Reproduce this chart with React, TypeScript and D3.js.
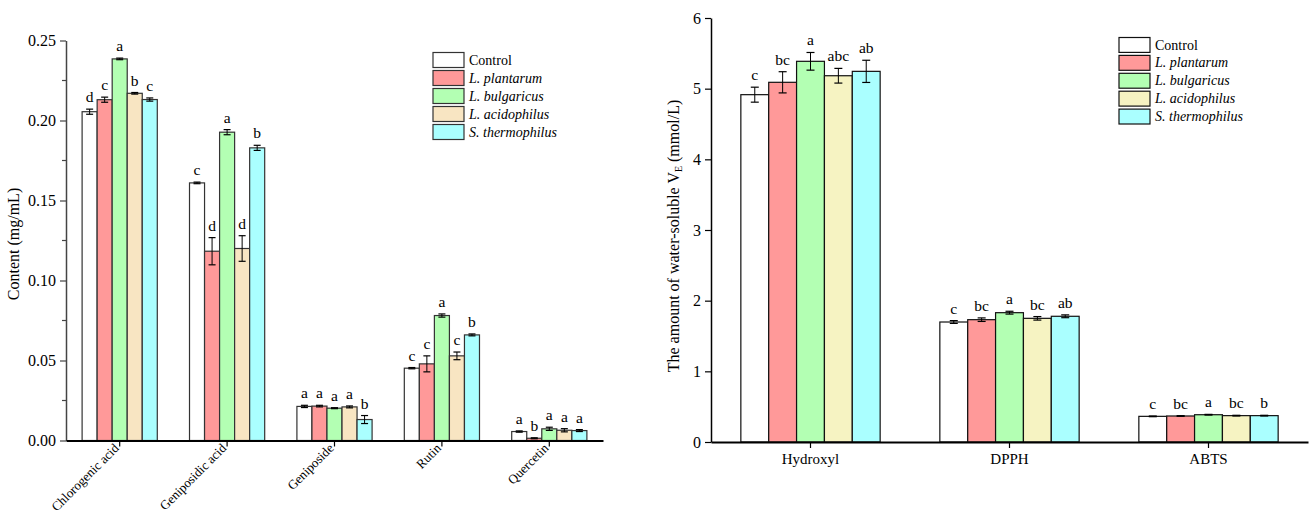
import { useEffect, useRef } from "react";
import * as d3 from "d3";

const FONT = '"Liberation Serif", "Times New Roman", serif';

const strains = ["Control", "L. plantarum", "L. bulgaricus", "L. acidophilus", "S. thermophilus"];
const compounds = ["Chlorogenic acid", "Geniposidic acid", "Geniposide", "Rutin", "Quercetin"];
const assays = ["Hydroxyl", "DPPH", "ABTS"];

const contentTicks = [0, 0.05, 0.1, 0.15, 0.2, 0.25];
const veTicks = [0, 1, 2, 3, 4, 5, 6];

// content (mg/mL): one row per strain, one column per compound
const contentMean = [
  [0.2055, 0.161, 0.0213, 0.0452, 0.0056],
  [0.213, 0.1183, 0.0215, 0.0479, 0.0014],
  [0.2385, 0.1927, 0.0202, 0.0781, 0.0073],
  [0.217, 0.12, 0.021, 0.0529, 0.0064],
  [0.2131, 0.1829, 0.0131, 0.066, 0.0062],
];
const contentErr = [
  [0.0016, 0.0005, 0.0007, 0.0004, 0.0004],
  [0.0016, 0.0085, 0.0005, 0.005, 0.0003],
  [0.0005, 0.0016, 0.0003, 0.001, 0.001],
  [0.0005, 0.008, 0.0006, 0.0024, 0.001],
  [0.001, 0.0016, 0.0025, 0.0006, 0.0006],
];
const contentLetters = [
  ["d", "c", "a", "c", "a"],
  ["c", "d", "a", "c", "b"],
  ["a", "a", "a", "a", "a"],
  ["b", "d", "a", "c", "a"],
  ["c", "b", "b", "b", "a"],
];

// water-soluble VE (mmol/L): one row per strain, one column per assay
const veMean = [
  [4.915, 1.698, 0.363],
  [5.09, 1.731, 0.368],
  [5.387, 1.83, 0.386],
  [5.183, 1.75, 0.373],
  [5.245, 1.779, 0.373],
];
const veErr = [
  [0.106, 0.02, 0.005],
  [0.15, 0.025, 0.005],
  [0.125, 0.02, 0.005],
  [0.104, 0.025, 0.005],
  [0.157, 0.02, 0.005],
];
const veLetters = [
  ["c", "c", "c"],
  ["bc", "bc", "bc"],
  ["a", "a", "a"],
  ["abc", "bc", "bc"],
  ["ab", "ab", "b"],
];

const leftColors = ["#FFFFFF", "#FF9999", "#B3FFB3", "#F8E5C2", "#AAFFFF"];
const rightColors = ["#FFFFFF", "#FF9999", "#B3FFB3", "#F6F3C2", "#AAFFFF"];

function drawPanel(svg, cfg) {
  const x = d3.scaleBand().domain(cfg.cats).range([cfg.x0, cfg.x1]);
  const y = d3.scaleLinear().domain([0, cfg.yMax]).range([cfg.yBottom, cfg.yTop]);
  const inner = d3
    .scaleBand()
    .domain(strains)
    .range([x.bandwidth() * 0.15, x.bandwidth() * 0.85]);
  const g = svg.append("g");

  strains.forEach((s, si) => {
    cfg.cats.forEach((c, ci) => {
      const v = cfg.means[si][ci];
      const e = cfg.errs[si][ci];
      const bx = x(c) + inner(s);
      const cx = bx + inner.bandwidth() / 2;
      g.append("rect")
        .attr("x", bx)
        .attr("y", y(v))
        .attr("width", inner.bandwidth())
        .attr("height", y(0) - y(v))
        .attr("fill", cfg.colors[si])
        .attr("stroke", cfg.barStroke)
        .attr("stroke-width", 1.2);
      g.append("line")
        .attr("x1", cx).attr("x2", cx)
        .attr("y1", y(v + e)).attr("y2", y(v - e))
        .attr("stroke", "#000");
      [v + e, v - e].forEach((w) => {
        g.append("line")
          .attr("x1", cx - cfg.cap).attr("x2", cx + cfg.cap)
          .attr("y1", y(w)).attr("y2", y(w))
          .attr("stroke", "#000")
          .attr("stroke-width", 1.2);
      });
      g.append("text")
        .attr("x", cx)
        .attr("y", y(v + e) - 7)
        .attr("text-anchor", "middle")
        .attr("font-family", FONT)
        .attr("font-size", 15.5)
        .text(cfg.letters[si][ci]);
    });
  });

  // y axis
  const ya = g
    .append("g")
    .attr("transform", `translate(${cfg.x0},0)`)
    .call(d3.axisLeft(y).tickValues(cfg.ticks).tickFormat(cfg.fmt).tickSize(6).tickSizeOuter(0));
  ya.select(".domain").attr("stroke", cfg.yAxisColor).attr("stroke-width", 1.5);
  ya.selectAll(".tick line").attr("stroke", cfg.yAxisColor).attr("stroke-width", 1.2);
  ya.selectAll(".tick text")
    .attr("font-family", FONT)
    .attr("font-size", 16)
    .attr("fill", "#000")
    .attr("x", -10);
  if (cfg.minor) {
    cfg.minor.forEach((m) => {
      g.append("line")
        .attr("x1", cfg.x0 - 4).attr("x2", cfg.x0)
        .attr("y1", y(m)).attr("y2", y(m))
        .attr("stroke", cfg.yAxisColor)
        .attr("stroke-width", 1.2);
    });
  }

  // x axis
  const xa = g
    .append("g")
    .attr("transform", `translate(0,${cfg.yBottom})`)
    .call(d3.axisBottom(x).tickSize(6).tickSizeOuter(0));
  xa.select(".domain").attr("stroke", "#000").attr("stroke-width", 2);
  xa.selectAll(".tick line").attr("stroke", "#000").attr("stroke-width", 1.2);
  xa.selectAll(".tick text").remove();
  cfg.cats.forEach((c) => {
    const tx = x(c) + x.bandwidth() / 2;
    if (cfg.rotate) {
      g.append("text")
        .attr("transform", `translate(${tx},${cfg.yBottom + 8.5}) rotate(-45)`)
        .attr("text-anchor", "end")
        .attr("font-family", FONT)
        .attr("font-size", 13)
        .text(c);
    } else {
      g.append("text")
        .attr("x", tx)
        .attr("y", cfg.yBottom + 22)
        .attr("text-anchor", "middle")
        .attr("font-family", FONT)
        .attr("font-size", 15)
        .text(c);
    }
  });

  // legend
  strains.forEach((s, si) => {
    const ly = cfg.legY + si * cfg.legStep;
    g.append("rect")
      .attr("x", cfg.legX)
      .attr("y", ly)
      .attr("width", 31)
      .attr("height", cfg.legStep - 3)
      .attr("fill", cfg.colors[si])
      .attr("stroke", cfg.barStroke)
      .attr("stroke-width", 1.2);
    g.append("text")
      .attr("x", cfg.legX + 36)
      .attr("y", ly + 12)
      .attr("font-family", FONT)
      .attr("font-size", 14)
      .attr("font-style", si === 0 ? "normal" : "italic")
      .text(s);
  });
}

export default function App() {
  const ref = useRef(null);

  useEffect(() => {
    const svg = d3.select(ref.current);
    svg.selectAll("*").remove();

    drawPanel(svg, {
      cats: compounds,
      means: contentMean,
      errs: contentErr,
      letters: contentLetters,
      colors: leftColors,
      x0: 66,
      x1: 603,
      yTop: 40.5,
      yBottom: 440.5,
      yMax: 0.25,
      ticks: contentTicks,
      fmt: d3.format(".2f"),
      minor: [0.025, 0.075, 0.125, 0.175, 0.225],
      yAxisColor: "#444",
      barStroke: "#333",
      cap: 3.5,
      rotate: true,
      legX: 433,
      legY: 52.5,
      legStep: 18,
    });
    svg.append("text")
      .attr("transform", "translate(18.5,244) rotate(-90)")
      .attr("text-anchor", "middle")
      .attr("font-family", FONT)
      .attr("font-size", 16)
      .text("Content (mg/mL)");

    drawPanel(svg, {
      cats: assays,
      means: veMean,
      errs: veErr,
      letters: veLetters,
      colors: rightColors,
      x0: 711,
      x1: 1308,
      yTop: 18,
      yBottom: 442,
      yMax: 6,
      ticks: veTicks,
      fmt: d3.format("d"),
      minor: null,
      yAxisColor: "#000",
      barStroke: "#111",
      cap: 4,
      rotate: false,
      legX: 1119,
      legY: 37.5,
      legStep: 17.9,
    });
    const t = svg.append("text")
      .attr("transform", "translate(678.5,236) rotate(-90)")
      .attr("text-anchor", "middle")
      .attr("font-family", FONT)
      .attr("font-size", 16);
    t.append("tspan").text("The amount of water-soluble V");
    t.append("tspan").attr("font-size", 10).attr("dy", 3).text("E");
    t.append("tspan").attr("dy", -3).text(" (mmol/L)");
  }, []);

  return (
    <svg
      ref={ref}
      width={1314}
      height={517}
      style={{ position: "absolute", left: 0, top: 0, background: "#fff" }}
    />
  );
}
